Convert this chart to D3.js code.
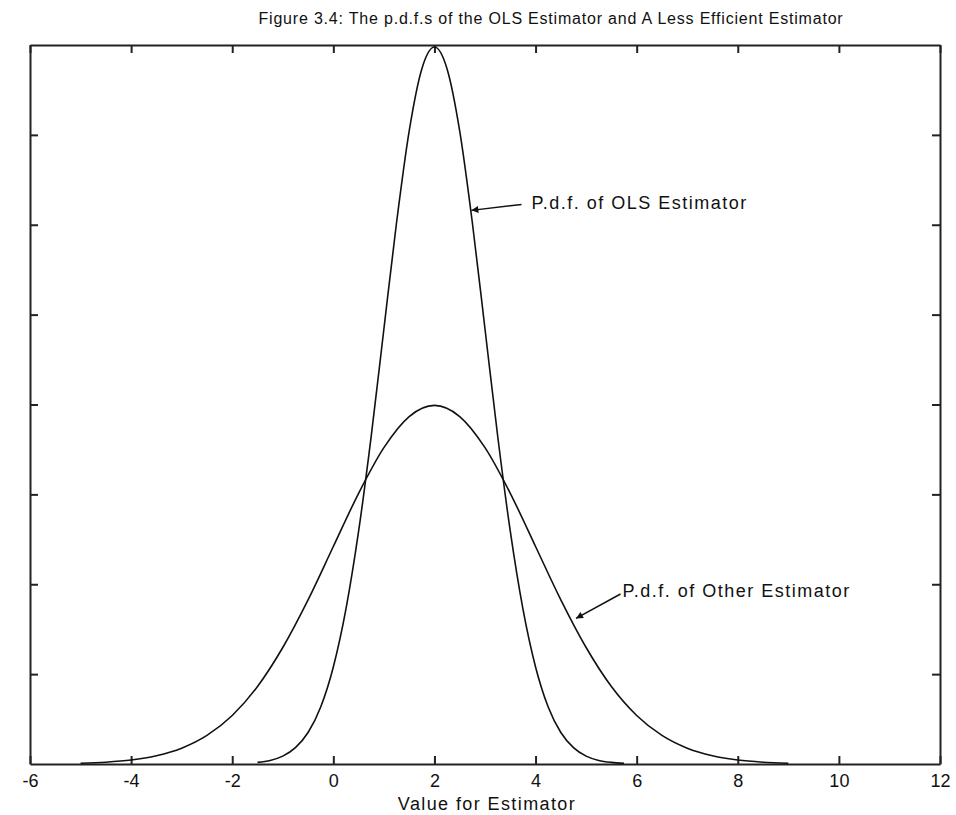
<!DOCTYPE html>
<meta charset="utf-8">
<script src="https://d3js.org/d3.v7.min.js"></script>
<style>
  body { margin: 0; background: #fff; }
  text { font-family: "Liberation Sans", Arial, sans-serif; fill: #111; }
</style>
<div id="my_dataviz"></div>
<script>

// values
var olsX = [-1.5,-1.25,-1,-0.75,-0.5,-0.25,0,0.25,0.5,0.75,1,1.25,1.5,1.75,2,2.25,2.5,2.75,3,3.25,3.5,3.75,4,4.25,4.5,4.75,5,5.25,5.5,5.75];
var olsY = [0.0009,0.0020,0.0044,0.0091,0.0175,0.0317,0.0540,0.0863,0.1295,0.1826,0.2420,0.3011,0.3521,0.3867,0.3989,0.3867,0.3521,0.3011,0.2420,0.1826,0.1295,0.0863,0.0540,0.0317,0.0175,0.0091,0.0044,0.0020,0.0009,0.0004];
var otherX = [-5,-4.5,-4,-3.5,-3,-2.5,-2,-1.5,-1,-0.5,0,0.5,1,1.5,2,2.5,3,3.5,4,4.5,5,5.5,6,6.5,7,7.5,8,8.5,9];
var otherY = [0.0004,0.0010,0.0022,0.0046,0.0088,0.0159,0.0270,0.0431,0.0648,0.0913,0.1210,0.1506,0.1760,0.1933,0.1995,0.1933,0.1760,0.1506,0.1210,0.0913,0.0648,0.0431,0.0270,0.0159,0.0088,0.0046,0.0022,0.0010,0.0004];
var xTicks = [-6,-4,-2,0,2,4,6,8,10,12];
var yTicks = [0.05,0.1,0.15,0.2,0.25,0.3,0.35];

var margin = {top: 45, right: 16, bottom: 51, left: 30},
    width = 956 - margin.left - margin.right,
    height = 815 - margin.top - margin.bottom;

var root = d3.select("#my_dataviz")
  .append("svg")
    .attr("width", 956)
    .attr("height", 815);

var svg = root.append("g")
    .attr("transform", "translate(" + margin.left + "," + margin.top + ")");

var x = d3.scaleLinear().domain([-6, 12]).range([0, width]);
var y = d3.scaleLinear().domain([0, 0.4]).range([height, 0]);

// title
root.append("text")
  .attr("x", 551)
  .attr("y", 24)
  .attr("text-anchor", "middle")
  .style("font-size", "16px")
  .style("letter-spacing", "0.8px")
  .text("Figure 3.4: The p.d.f.s of the OLS Estimator and A Less Efficient Estimator");

// axes, ticks pointing inwards
var xAxis = svg.append("g")
  .attr("transform", "translate(0," + height + ")")
  .call(d3.axisBottom(x).tickValues(xTicks).tickSizeInner(-8).tickSizeOuter(0).tickPadding(10)
    .tickFormat(function(d) { return String(d); }));
xAxis.selectAll("text")
  .style("font-size", "18px")
  .style("font-family", "'Liberation Sans', Arial, sans-serif")
  .attr("fill", "#111");

svg.append("g")
  .call(d3.axisTop(x).tickValues(xTicks).tickSizeInner(-8).tickSizeOuter(0).tickFormat(""));
svg.append("g")
  .call(d3.axisLeft(y).tickValues(yTicks).tickSizeInner(-8).tickSizeOuter(0).tickFormat(""));
svg.append("g")
  .attr("transform", "translate(" + width + ",0)")
  .call(d3.axisRight(y).tickValues(yTicks).tickSizeInner(-8).tickSizeOuter(0).tickFormat(""));

svg.selectAll(".domain, .tick line")
  .attr("stroke", "#222")
  .attr("stroke-width", 2);

// x label
svg.append("text")
  .attr("x", x(3) + 2)
  .attr("y", height + 46)
  .attr("text-anchor", "middle")
  .style("font-size", "18px")
  .style("letter-spacing", "1.4px")
  .text("Value for Estimator");

// curves
var line = d3.line()
  .x(function(d) { return x(d[0]); })
  .y(function(d) { return y(d[1]); })
  .curve(d3.curveMonotoneX);

var series = [
  d3.zip(olsX, olsY),
  d3.zip(otherX, otherY)
];

svg.selectAll("mylines")
  .data(series)
  .enter()
  .append("path")
    .attr("d", line)
    .attr("fill", "none")
    .attr("stroke", "#111")
    .attr("stroke-width", 1.6);

// arrows
svg.append("defs").append("marker")
  .attr("id", "arrow")
  .attr("viewBox", "0 0 10 10")
  .attr("refX", 10).attr("refY", 5)
  .attr("markerWidth", 11).attr("markerHeight", 7)
  .attr("markerUnits", "userSpaceOnUse")
  .attr("orient", "auto")
  .append("path")
    .attr("d", "M0,0L10,5L0,10z")
    .attr("fill", "#111");

// dx, dy: where the arrow starts relative to the text
var notes = [
  {label: "P.d.f. of OLS Estimator", tx: 3.92, ty: 0.3085, ax: 2.73, ay: 0.308, dx: -10, dy: -5},
  {label: "P.d.f. of Other Estimator", tx: 5.72, ty: 0.0929, ax: 4.8, ay: 0.081, dx: -2, dy: -3}
];

svg.selectAll("myarrows")
  .data(notes)
  .enter()
  .append("line")
    .attr("x1", function(d) { return x(d.tx) + d.dx; })
    .attr("y1", function(d) { return y(d.ty) + d.dy; })
    .attr("x2", function(d) { return x(d.ax); })
    .attr("y2", function(d) { return y(d.ay); })
    .attr("stroke", "#111")
    .attr("stroke-width", 1.5)
    .attr("marker-end", "url(#arrow)");

svg.selectAll("mynotes")
  .data(notes)
  .enter()
  .append("text")
    .attr("x", function(d) { return x(d.tx); })
    .attr("y", function(d) { return y(d.ty); })
    .style("font-size", "18px")
    .style("letter-spacing", "1.5px")
    .text(function(d) { return d.label; });

</script>
